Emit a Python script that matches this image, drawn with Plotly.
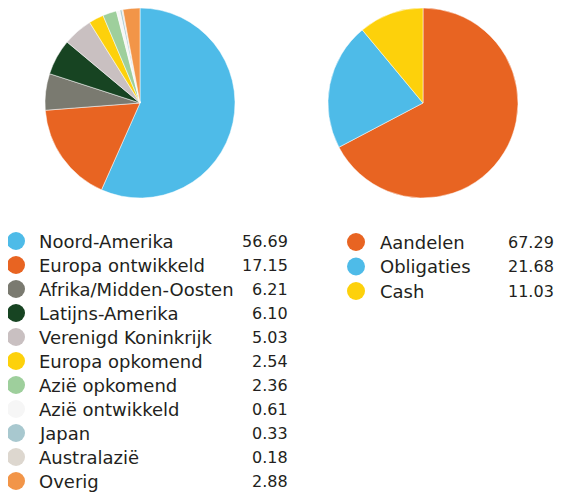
import plotly.graph_objects as go

regions = ["Noord-Amerika", "Europa ontwikkeld", "Afrika/Midden-Oosten", "Latijns-Amerika",
           "Verenigd Koninkrijk", "Europa opkomend", "Azië opkomend", "Azië ontwikkeld",
           "Japan", "Australazië", "Overig"]
region_values = [56.69, 17.15, 6.21, 6.10, 5.03, 2.54, 2.36, 0.61, 0.33, 0.18, 2.88]
region_colors = ["#4EBBE8", "#E86422", "#7A7A70", "#174422", "#C9C0C1", "#FDD10B",
                 "#9ECF9C", "#F6F6F6", "#A8C8CF", "#DDD7CF", "#F29548"]

assets = ["Aandelen", "Obligaties", "Cash"]
asset_values = [67.29, 21.68, 11.03]
asset_colors = ["#E86422", "#4EBBE8", "#FDD10B"]

# page is 565x492; the browser body adds an 8px margin around the figure
PAGE_W, PAGE_H = 565, 492
OFF = 8
W, H = PAGE_W - 2 * OFF, PAGE_H - OFF
FONT = "DejaVu Sans"
TXT = "#231F20"


def dx(x0, x1):
    return [(x0 - OFF) / W, (x1 - OFF) / W]


def dy(y0, y1):  # page y (top, bottom) -> paper fractions
    return [1 - (y1 - OFF) / H, 1 - (y0 - OFF) / H]


fig = go.Figure()

fig.add_trace(go.Pie(
    labels=regions, values=region_values, sort=False, direction="clockwise", rotation=0,
    marker=dict(colors=region_colors, line=dict(color="white", width=0.5)),
    textinfo="none", hoverinfo="label+value", showlegend=False,
    domain=dict(x=dx(45, 235), y=dy(8, 198)),
))
fig.add_trace(go.Pie(
    labels=assets, values=asset_values, sort=False, direction="clockwise", rotation=0,
    marker=dict(colors=asset_colors, line=dict(color="white", width=0.5)),
    textinfo="none", hoverinfo="label+value", showlegend=False,
    domain=dict(x=dx(328, 518), y=dy(8, 198)),
))

annotations = []


def add_legend(labels, values, colors, mx, tx, vx, y0, step):
    ys = [y0 + step * i for i in range(len(labels))]
    fig.add_trace(go.Scatter(
        x=[mx] * len(labels), y=ys, mode="markers",
        marker=dict(size=18, color=colors, line=dict(width=0)),
        hoverinfo="skip", showlegend=False, xaxis="x", yaxis="y",
    ))
    for lab, val, y in zip(labels, values, ys):
        annotations.append(dict(x=tx, y=y, xref="x", yref="y", text=lab, showarrow=False,
                                xanchor="left", yanchor="middle", xshift=-2,
                                font=dict(family=FONT, size=18, color=TXT)))
        annotations.append(dict(x=vx, y=y, xref="x", yref="y", text=f"{val:.2f}",
                                showarrow=False, xanchor="right", yanchor="middle", xshift=2,
                                font=dict(family=FONT, size=16, color=TXT)))


add_legend(regions, region_values, region_colors, 16, 39, 288, 241, 24)
add_legend(assets, asset_values, asset_colors, 356, 380, 554, 242, 24.5)

fig.update_layout(
    width=W, height=H, margin=dict(l=0, r=0, t=0, b=0),
    paper_bgcolor="white", plot_bgcolor="rgba(0,0,0,0)",
    xaxis=dict(range=[OFF, OFF + W], domain=[0, 1], visible=False, fixedrange=True),
    yaxis=dict(range=[PAGE_H, OFF], domain=[0, 1], visible=False, fixedrange=True),
    annotations=annotations, showlegend=False,
)

fig.write_html("out.html")
